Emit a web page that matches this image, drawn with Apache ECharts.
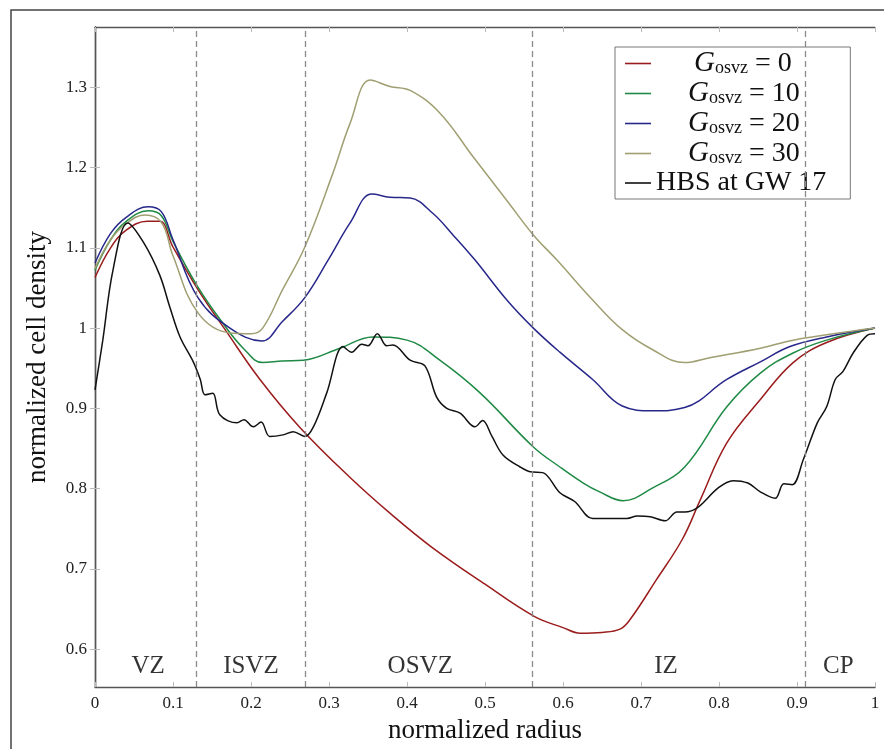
<!DOCTYPE html>
<html>
<head>
<meta charset="utf-8">
<script src="https://cdn.jsdelivr.net/npm/echarts@6/dist/echarts.min.js"></script>
<style>
  html, body { margin: 0; padding: 0; background: #fff; }
  #chart { width: 884px; height: 749px; }
</style>
</head>
<body>
<div id="chart"></div>
<script>
// series names
var names = ['G0', 'G10', 'G20', 'G30', 'HBS at GW 17'];

// G_osvz = 0
var redX = [0, 0.02, 0.04, 0.067, 0.083, 0.1, 0.132, 0.169, 0.2115, 0.263, 0.327, 0.38, 0.432, 0.5, 0.563, 0.6, 0.622, 0.65, 0.673, 0.686, 0.72, 0.753, 0.776, 0.81, 0.853, 0.895, 0.938, 1];
var redY = [1.063, 1.1, 1.122, 1.133, 1.133, 1.101, 1.048, 0.995, 0.936, 0.876, 0.814, 0.768, 0.727, 0.681, 0.641, 0.627, 0.62, 0.621, 0.625, 0.637, 0.687, 0.737, 0.786, 0.857, 0.911, 0.957, 0.982, 1.0];

// G_osvz = 10
var greenX = [0, 0.02, 0.04, 0.068, 0.085, 0.1, 0.132, 0.164, 0.19, 0.215, 0.24, 0.267, 0.314, 0.356, 0.4, 0.442, 0.494, 0.562, 0.596, 0.626, 0.647, 0.677, 0.715, 0.756, 0.81, 0.853, 0.895, 0.938, 1];
var greenY = [1.072, 1.11, 1.133, 1.146, 1.14, 1.108, 1.051, 1.006, 0.975, 0.957, 0.959, 0.96, 0.975, 0.989, 0.985, 0.96, 0.919, 0.852, 0.827, 0.807, 0.796, 0.785, 0.801, 0.827, 0.902, 0.944, 0.969, 0.985, 1.0];

// G_osvz = 20
var blueX = [0, 0.02, 0.04, 0.068, 0.085, 0.1, 0.132, 0.173, 0.214, 0.24, 0.269, 0.299, 0.327, 0.355, 0.378, 0.404, 0.433, 0.459, 0.487, 0.528, 0.562, 0.596, 0.638, 0.676, 0.715, 0.756, 0.81, 0.853, 0.891, 0.938, 1];
var blueY = [1.081, 1.118, 1.138, 1.151, 1.145, 1.11, 1.038, 1.0, 0.984, 1.008, 1.038, 1.085, 1.131, 1.167, 1.163, 1.162, 1.143, 1.116, 1.085, 1.035, 1.0, 0.97, 0.936, 0.903, 0.897, 0.901, 0.936, 0.958, 0.977, 0.989, 1.0];

// G_osvz = 30
var oliveX = [0, 0.02, 0.04, 0.064, 0.085, 0.1, 0.132, 0.173, 0.2, 0.215, 0.24, 0.269, 0.305, 0.327, 0.353, 0.378, 0.404, 0.442, 0.485, 0.528, 0.562, 0.592, 0.638, 0.676, 0.715, 0.756, 0.788, 0.853, 0.895, 1];
var oliveY = [1.074, 1.11, 1.13, 1.141, 1.132, 1.09, 1.019, 0.994, 0.993, 1.0, 1.047, 1.101, 1.193, 1.255, 1.309, 1.301, 1.296, 1.268, 1.213, 1.159, 1.116, 1.085, 1.035, 0.998, 0.973, 0.957, 0.963, 0.975, 0.985, 1.0];

// HBS at GW 17
var hbsX = [0, 0.01, 0.023, 0.042, 0.062, 0.083, 0.096, 0.109, 0.126, 0.135, 0.141, 0.151, 0.16, 0.182, 0.191, 0.203, 0.213, 0.224, 0.241, 0.254, 0.269, 0.28, 0.297, 0.318, 0.329, 0.342, 0.35, 0.362, 0.374, 0.382, 0.404, 0.423, 0.438, 0.451, 0.468, 0.487, 0.497, 0.509, 0.523, 0.545, 0.558, 0.574, 0.596, 0.615, 0.638, 0.682, 0.695, 0.712, 0.731, 0.746, 0.756, 0.772, 0.799, 0.818, 0.837, 0.853, 0.872, 0.883, 0.894, 0.908, 0.926, 0.938, 0.949, 0.959, 0.972, 0.99, 1];
var hbsY = [0.923, 0.985, 1.072, 1.131, 1.107, 1.066, 1.026, 0.989, 0.958, 0.936, 0.917, 0.919, 0.892, 0.882, 0.886, 0.877, 0.883, 0.865, 0.867, 0.871, 0.865, 0.877, 0.919, 0.977, 0.97, 0.98, 0.978, 0.993, 0.978, 0.979, 0.96, 0.953, 0.914, 0.9, 0.894, 0.877, 0.885, 0.865, 0.842, 0.827, 0.821, 0.82, 0.795, 0.784, 0.763, 0.763, 0.766, 0.765, 0.76, 0.771, 0.771, 0.776, 0.801, 0.81, 0.807, 0.796, 0.788, 0.806, 0.805, 0.836, 0.882, 0.902, 0.936, 0.946, 0.969, 0.991, 0.993];

// zone boundaries and labels
var boundaries = [0.132, 0.269, 0.563, 0.906];
var zoneNames = ['VZ', 'ISVZ', 'OSVZ', 'IZ', 'CP'];
var zoneX = [0.068, 0.2, 0.417, 0.732, 0.953];
var zoneY = 0.579;

var yTicks = [0.6, 0.7, 0.8, 0.9, 1, 1.1, 1.2, 1.3];

var serif = 'Liberation Serif';
var colors = ['#9a1c1c', '#1f8a45', '#27288a', '#a09f72', '#111111'];

function zip(xs, ys) {
    return xs.map(function (x, i) { return [x, ys[i]]; });
}
function fmt(v) {
    return String(+v.toFixed(2));
}

var lineSeries = [
    [redX, redY], [greenX, greenY], [blueX, blueY], [oliveX, oliveY], [hbsX, hbsY]
].map(function (d, i) {
    return {
        name: names[i],
        type: 'line',
        data: zip(d[0], d[1]),
        symbol: 'none',
        showSymbol: false,
        smooth: i === 4 ? 0.35 : 0.4,
        lineStyle: { color: colors[i], width: 1.5 },
        itemStyle: { color: colors[i] },
        z: 3,
        animation: false
    };
});

var zoneSeries = {
    name: 'zones',
    type: 'scatter',
    symbolSize: 0,
    silent: true,
    animation: false,
    data: zoneX.map(function (x, i) { return [x, zoneY, zoneNames[i]]; }),
    label: {
        show: true,
        position: 'inside',
        formatter: function (p) { return p.data[2]; },
        fontFamily: serif,
        fontSize: 25,
        color: '#000'
    },
    markLine: {
        silent: true,
        symbol: ['none', 'none'],
        label: { show: false },
        lineStyle: { color: '#8a8a8a', type: [6, 4], width: 1.3 },
        data: boundaries.map(function (b) { return { xAxis: b }; })
    }
};

var option = {
    backgroundColor: '#fff',
    animation: false,
    graphic: [{
        type: 'rect',
        shape: { x: 11, y: 10, width: 900, height: 800 },
        style: { fill: 'none', stroke: '#444', lineWidth: 1.5 },
        silent: true
    }],
    grid: { left: 95, right: 9, top: 27, bottom: 61 },
    legend: {
        data: names,
        orient: 'vertical',
        left: 615,
        top: 47,
        borderColor: '#777',
        borderWidth: 1,
        borderRadius: 0,
        backgroundColor: '#fff',
        padding: [2, 24, 2, 10],
        itemGap: 1,
        itemWidth: 26,
        itemHeight: 1.6,
        icon: 'rect',
        textStyle: {
            fontFamily: serif,
            fontSize: 28,
            color: '#111',
            rich: {
                p: { width: 32 },
                q: { width: 38 },
                g: { fontFamily: serif, fontStyle: 'italic', fontSize: 29, color: '#111', lineHeight: 28 },
                s: { fontFamily: serif, fontSize: 18, color: '#111', verticalAlign: 'bottom', lineHeight: 22 },
                e: { fontFamily: serif, fontSize: 28, color: '#111', lineHeight: 28 },
                h: { fontFamily: serif, fontSize: 28, color: '#111', lineHeight: 28 }
            }
        },
        formatter: function (n) {
            if (n.charAt(0) === 'G') {
                var pad = n === 'G0' ? '{q|}' : '{p|}';
                return pad + '{g|G}{s|osvz}{e| = ' + n.slice(1) + '}';
            }
            return '{h|' + n + '}';
        }
    },
    xAxis: [{
        type: 'value',
        min: 0,
        max: 1,
        interval: 0.1,
        name: 'normalized radius',
        nameLocation: 'middle',
        nameGap: 30,
        nameTextStyle: { fontFamily: serif, fontSize: 27, color: '#111' },
        axisLine: { lineStyle: { color: '#555', width: 1.4 } },
        axisTick: { inside: true, length: 5, lineStyle: { color: '#bbb' } },
        axisLabel: { fontFamily: serif, fontSize: 17, color: '#222', margin: 8, formatter: fmt },
        splitLine: { show: false }
    }, {
        type: 'value',
        position: 'top',
        min: 0,
        max: 1,
        interval: 0.1,
        axisLine: { lineStyle: { color: '#555', width: 1.4 } },
        axisTick: { inside: true, length: 5, lineStyle: { color: '#bbb' } },
        axisLabel: { show: false },
        splitLine: { show: false }
    }],
    yAxis: [{
        type: 'value',
        min: 0.553,
        max: 1.375,
        name: 'normalized cell density',
        nameLocation: 'middle',
        nameGap: 44,
        nameTextStyle: { fontFamily: serif, fontSize: 27, color: '#111' },
        axisLine: { show: true, lineStyle: { color: '#555', width: 1.4 } },
        axisTick: { show: true, inside: true, length: 5, customValues: yTicks, lineStyle: { color: '#bbb' } },
        axisLabel: { fontFamily: serif, fontSize: 17, color: '#222', margin: 8, customValues: yTicks, formatter: fmt },
        splitLine: { show: false }
    }, {
        type: 'value',
        position: 'right',
        min: 0.553,
        max: 1.375,
        axisLine: { show: true, lineStyle: { color: '#555', width: 1.4 } },
        axisTick: { show: true, inside: true, length: 5, customValues: yTicks, lineStyle: { color: '#bbb' } },
        axisLabel: { show: false },
        splitLine: { show: false }
    }],
    series: lineSeries.concat([zoneSeries])
};

var chart = echarts.init(document.getElementById('chart'));
chart.setOption(option);
</script>
</body>
</html>
